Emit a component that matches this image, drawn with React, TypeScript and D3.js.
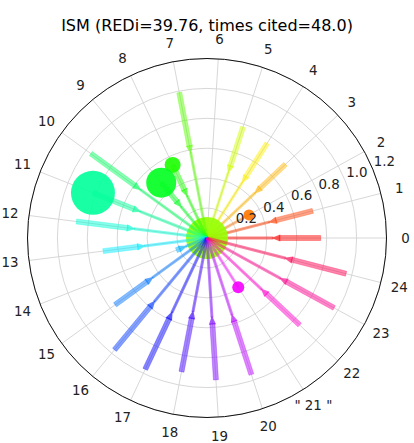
import React from 'react';
import * as d3 from 'd3';

const title = 'ISM (REDi=39.76, times cited=48.0)';
const categories = ['0','1','2','3','4','5','6','7','8','9','10','11','12','13','14','15','16','17','18','19','20','" 21 "','22','23','24'];
const lineEnds = [0.76,0.73,0.32,0.72,0.75,0.78,0,0.99,0.54,0.48,0.96,0.82,0.88,0.70,0.22,0.76,0.97,0.97,0.91,0.95,0.96,0.39,0.85,0.97,0.96];
const arrowPos = [0.46,0.45,0,0.46,0.46,0.48,0,0.60,0.33,0.29,0.57,0.50,0.51,0.44,0.17,0.47,0.57,0.57,0.52,0.55,0.56,0,0.52,0.58,0.56];
const markerSizes = [0,0,30,0,0,0,441,0,64,225,0,484,0,0,0,0,0,0,0,0,0,36,0,0,0];
const radialTicks = [0.2,0.4,0.6,0.8,1.0,1.2];
const radialTickLabels = ['0.2','0.4','0.6','0.8','1.0','1.2'];

const W = 414, H = 443;
const cx = 207, cy = 238, R = 179.5;
const FONT = '"DejaVu Sans", sans-serif';

// matplotlib 'hsv' colormap segment data
const segR: [number, number][] = [[0,1],[0.15873,1],[0.174603,0.96875],[0.333333,0.03125],[0.349206,0],[0.666667,0],[0.68254,0.03125],[0.84127,0.96875],[0.857143,1],[1,1]];
const segG: [number, number][] = [[0,0],[0.15873,0.9375],[0.174603,1],[0.507937,1],[0.666667,0.0625],[0.68254,0],[1,0]];
const segB: [number, number][] = [[0,0],[0.333333,0],[0.349206,0.0625],[0.507937,1],[0.84127,1],[0.857143,0.9375],[1,0.09375]];
const mk = (s: [number, number][]) => d3.scaleLinear().domain(s.map(d => d[0])).range(s.map(d => d[1])).clamp(true);
const fr = mk(segR), fg = mk(segG), fb = mk(segB);
const hsv = (t: number) => d3.rgb(fr(t) * 255, fg(t) * 255, fb(t) * 255).formatHex();

export default function App() {
  const n = categories.length;
  const rScale = d3.scaleLinear().domain([0, 1.2]).range([0, R]);
  const aScale = d3.scaleLinear().domain([0, n]).range([0, 2 * Math.PI]);
  const sizeScale = d3.scaleSqrt().domain([0, 484]).range([0, 22]);

  const pt = (r: number, th: number, w = 0): [number, number] => [
    cx + r * Math.cos(th) + w * Math.sin(th),
    cy - r * Math.sin(th) + w * Math.cos(th),
  ];
  const poly = (ps: [number, number][]) => ps.map(p => p.join(',')).join(' ');

  const spokes = categories.map((c, i) => {
    const th = aScale(i);
    const color = hsv(i / n);
    const endR = rScale(lineEnds[i]);
    const els: React.ReactNode[] = [];
    if (lineEnds[i] > 0) {
      const [x0, y0] = pt(0, th);
      if (arrowPos[i] > 0) {
        const aR = rScale(arrowPos[i]);
        const tipR = aR - 4.5;
        const baseR = aR + 4.5;
        const [x1, y1] = pt(Math.max(tipR + 2, 0), th);
        els.push(<line key="in" x1={x0} y1={y0} x2={x1} y2={y1} stroke={color} strokeOpacity={0.5} strokeWidth={3} />);
        if (endR > baseR) {
          els.push(
            <polygon key="out" points={poly([pt(baseR - 1, th, -2.5), pt(endR, th, -2.5), pt(endR, th, 2.5), pt(baseR - 1, th, 2.5)])}
              fill={color} fillOpacity={0.48} stroke={color} strokeOpacity={0.3} strokeWidth={1} />
          );
        }
        els.push(
          <polygon key="arr" points={poly([pt(tipR, th), pt(baseR, th, -3.6), pt(baseR, th, 3.6)])}
            fill={color} fillOpacity={0.65} />
        );
      } else {
        const [x1, y1] = pt(endR, th);
        els.push(<line key="in" x1={x0} y1={y0} x2={x1} y2={y1} stroke={color} strokeOpacity={0.45} strokeWidth={3} />);
      }
    }
    if (markerSizes[i] > 0) {
      const [mx, my] = pt(endR, th);
      els.push(<circle key="m" cx={mx} cy={my} r={sizeScale(markerSizes[i])} fill={color} fillOpacity={0.9} />);
    }
    return <g key={i}>{els}</g>;
  });

  const labelAngle = (22.5 * Math.PI) / 180;

  return (
    <svg width={W} height={H} style={{ position: 'absolute', left: 0, top: 0, background: '#fff' }}>
      <rect width={W} height={H} fill="#fff" />
      <text x={207} y={31} textAnchor="middle" fontFamily={FONT} fontSize={16} fill="#000">{title}</text>
      {radialTicks.map((t, i) => (
        <circle key={'gc' + i} cx={cx} cy={cy} r={rScale(t)} fill="none" stroke="#d3d3d3" strokeWidth={0.9} />
      ))}
      {categories.map((c, i) => {
        const [x, y] = pt(R, aScale(i));
        return <line key={'gl' + i} x1={cx} y1={cy} x2={x} y2={y} stroke="#d3d3d3" strokeWidth={0.9} />;
      })}
      <circle cx={cx} cy={cy} r={R} fill="none" stroke="#111" strokeWidth={1} />
      {spokes}
      {radialTicks.map((t, i) => {
        const [x, y] = pt(rScale(t), labelAngle);
        return (
          <text key={'rl' + i} x={x + 1} y={y - 3.5} fontFamily={FONT} fontSize={13.4} fill="#222">{radialTickLabels[i]}</text>
        );
      })}
      {categories.map((c, i) => {
        const [x, y] = pt(198.5, aScale(i));
        return (
          <text key={'tl' + i} x={x} y={y} textAnchor="middle" dominantBaseline="central" fontFamily={FONT} fontSize={13.4} fill="#222">{c}</text>
        );
      })}
    </svg>
  );
}
